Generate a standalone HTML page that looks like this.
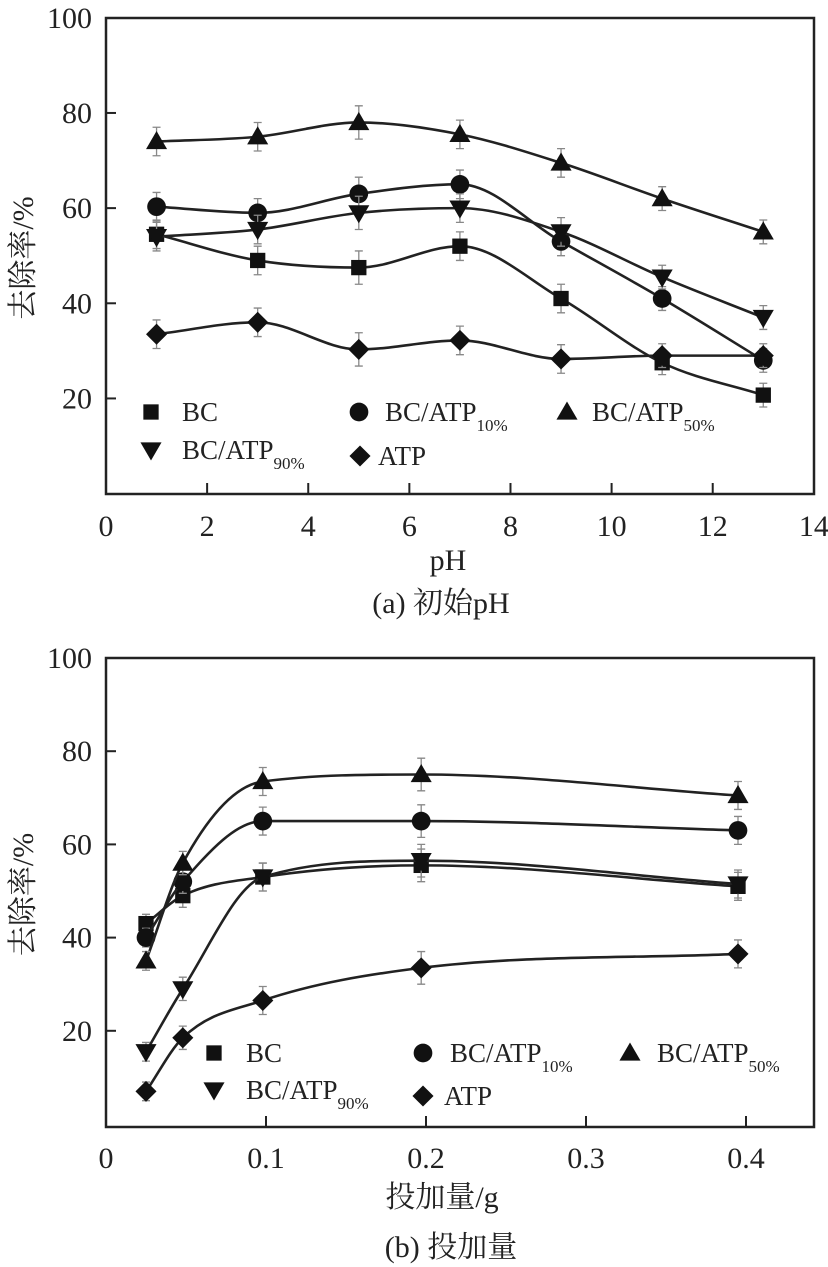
<!DOCTYPE html>
<html><head><meta charset="utf-8">
<style>
html,body{margin:0;padding:0;background:#fff;}
svg{display:block;}
text{font-family:"Liberation Serif","Noto Serif CJK SC","Noto Sans CJK SC",serif;fill:#222;}
</style></head>
<body>
<svg id="chart" width="828" height="1267" viewBox="0 0 828 1267" xmlns="http://www.w3.org/2000/svg"></svg>
<script>
// ---- Chart (a) data ----
const phX = [1, 3, 5, 7, 9, 11, 13];
const phBC = [54.5, 49, 47.5, 52, 41, 27.5, 20.7];
const phBC10 = [60.3, 59, 63, 65, 53, 41, 28];
const phBC50 = [74, 75, 78, 75.5, 69.5, 62, 55];
const phBC90 = [54, 55.5, 59, 60, 55, 45.5, 37];
const phATP = [33.5, 36, 30.3, 32.2, 28.3, 29, 29];
const phErr = [3, 3, 3.5, 3, 3, 2.5, 2.5];
const phTicks = [0, 2, 4, 6, 8, 10, 12, 14];
// ---- Chart (b) data ----
const dX = [0.025, 0.048, 0.098, 0.197, 0.395];
const dBC = [43, 49, 53, 55.5, 51];
const dBC10 = [40, 52, 65, 65, 63];
const dBC50 = [35, 56, 73.5, 75, 70.5];
const dBC90 = [15.5, 29, 53, 56.5, 51.5];
const dATP = [7, 18.5, 26.5, 33.5, 36.5];
const dErr = [2, 2.5, 3, 3.5, 3];
const dTicks = [0, 0.1, 0.2, 0.3, 0.4];
const dTickLabels = ["0", "0.1", "0.2", "0.3", "0.4"];
const yTicks = [20, 40, 60, 80, 100];

const NS = "http://www.w3.org/2000/svg";
const svg = document.getElementById("chart");
function mk(tag, attrs, parent) {
  const e = document.createElementNS(NS, tag);
  for (const k in attrs) e.setAttribute(k, attrs[k]);
  (parent || svg).appendChild(e);
  return e;
}
// monotone cubic (Fritsch-Carlson) in pixel space
function smooth(pts) {
  const n = pts.length, dx = [], dy = [], m = [], t = [];
  for (let i = 0; i < n - 1; i++) { dx[i] = pts[i + 1][0] - pts[i][0]; dy[i] = pts[i + 1][1] - pts[i][1]; m[i] = dy[i] / dx[i]; }
  t[0] = m[0]; t[n - 1] = m[n - 2];
  for (let i = 1; i < n - 1; i++) t[i] = (m[i - 1] * m[i] <= 0) ? 0 : (m[i - 1] + m[i]) / 2;
  for (let i = 0; i < n - 1; i++) {
    if (m[i] === 0) { t[i] = 0; t[i + 1] = 0; continue; }
    const a = t[i] / m[i], b = t[i + 1] / m[i], h = a * a + b * b;
    if (h > 9) { const s = 3 / Math.sqrt(h); t[i] = s * a * m[i]; t[i + 1] = s * b * m[i]; }
  }
  let d = "M" + pts[0][0] + "," + pts[0][1];
  for (let i = 0; i < n - 1; i++) {
    const h = dx[i] / 3;
    d += " C" + (pts[i][0] + h) + "," + (pts[i][1] + t[i] * h) + " " + (pts[i + 1][0] - h) + "," + (pts[i + 1][1] - t[i + 1] * h) + " " + pts[i + 1][0] + "," + pts[i + 1][1];
  }
  return d;
}
function marker(g, type, x, y, s) {
  let e;
  if (type === "square") e = mk("rect", {x: x - s * 0.45, y: y - s * 0.45, width: s * 0.9, height: s * 0.9, fill: "#111"}, g);
  else if (type === "circle") e = mk("circle", {cx: x, cy: y, r: s * 0.55, fill: "#111"}, g);
  else if (type === "up") e = mk("polygon", {points: `${x},${y - s * 0.62} ${x - s * 0.62},${y + s * 0.45} ${x + s * 0.62},${y + s * 0.45}`, fill: "#111"}, g);
  else if (type === "down") e = mk("polygon", {points: `${x},${y + s * 0.62} ${x - s * 0.62},${y - s * 0.45} ${x + s * 0.62},${y - s * 0.45}`, fill: "#111"}, g);
  else e = mk("polygon", {points: `${x},${y - s * 0.62} ${x + s * 0.62},${y} ${x},${y + s * 0.62} ${x - s * 0.62},${y}`, fill: "#111"}, g);
  return e;
}

function drawChart(cfg) {
  const g = mk("g", {});
  
  
  const X = v => cfg.x0 + v * cfg.xs;
  const Y = v => cfg.y0 - v * cfg.ys;
  cfg.series.forEach(s => {
    const sg = mk("g", {}, g);
    
    
    const pts = cfg.xv.map((xv, i) => [X(xv), Y(s.vals[i])]);
    const p = mk("path", {d: smooth(pts), fill: "none", stroke: "#222", "stroke-width": 2.6}, sg);
    
    
    cfg.xv.forEach((xv, i) => {
      const x = X(xv), e = cfg.err[i];
      const eb = mk("path", {d: `M${x},${Y(s.vals[i] + e)}V${Y(s.vals[i] - e)}M${x - 4},${Y(s.vals[i] + e)}h8M${x - 4},${Y(s.vals[i] - e)}h8`, stroke: "#888", "stroke-width": 1.3, fill: "none"}, sg);
      
      
      const m = marker(sg, s.type, x, Y(s.vals[i]), 17);
      
      
    });
  });
  const fr = mk("rect", {x: cfg.left, y: cfg.top, width: cfg.right - cfg.left, height: cfg.bottom - cfg.top, fill: "none", stroke: "#222", "stroke-width": 2.5}, g);
  
  
  yTicks.forEach(t => {
    const y = Y(t);
    if (t < 100) mk("line", {x1: cfg.left, x2: cfg.left + 10, y1: y, y2: y, stroke: "#222", "stroke-width": 2}, g);
    const tx = mk("text", {x: cfg.left - 14, y: y + 10, "text-anchor": "end", "font-size": 30}, g);
    tx.textContent = t;
    
    
  });
  cfg.xt.forEach((t, i) => {
    const x = X(t);
    if (i > 0 && x < cfg.right - 3) mk("line", {x1: x, x2: x, y1: cfg.bottom, y2: cfg.bottom - 11, stroke: "#222", "stroke-width": 2}, g);
    const tx = mk("text", {x: x, y: cfg.tickBase, "text-anchor": "middle", "font-size": 30}, g);
    tx.textContent = cfg.xtl[i];
    
    
  });
  const yl = mk("text", {x: 0, y: 0, "text-anchor": "middle", "font-size": 30, transform: `translate(33,${(cfg.top + cfg.bottom) / 2 + 2}) rotate(-90)`, fill: "#333"}, g);
  yl.textContent = "去除率/%";
  
  
  const xl = mk("text", {x: cfg.xlX, y: cfg.xlBase, "text-anchor": "middle", "font-size": 30}, g);
  xl.textContent = cfg.xlabel;
  
  
  const cp = mk("text", {x: cfg.capX, y: cfg.capBase, "text-anchor": "middle", "font-size": 30}, g);
  cp.textContent = cfg.caption;
  
  
  const lg = mk("g", {}, g);
  
  
  cfg.legend.forEach(L => {
    const eg = mk("g", {}, lg);
    
    
    marker(eg, L.type, L.mx, L.y, 17);
    const t = mk("text", {x: L.tx, y: L.y + 9, "font-size": 27}, eg);
    t.textContent = L.label;
    if (L.sub) {
      const ts = mk("tspan", {"font-size": 17, dy: 10}, t);
      ts.textContent = L.sub;
    }
  });
}

const typesA = [
  {key: "bc", type: "square"}, {key: "bc-atp10", type: "circle"}, {key: "bc-atp50", type: "up"},
  {key: "bc-atp90", type: "down"}, {key: "atp", type: "diamond"}];
drawChart({
  name: "chart-a-ph", left: 106, right: 814, top: 18, bottom: 494,
  x0: 106, xs: 50.56, y0: 493.6, ys: 4.758,
  xv: phX, err: phErr, xt: phTicks, xtl: phTicks.map(String),
  tickBase: 536, xlBase: 570, capBase: 613, xlX: 448, capX: 441, xlabel: "pH", caption: "(a) 初始pH",
  series: [
    Object.assign({vals: phBC}, typesA[0]), Object.assign({vals: phBC10}, typesA[1]),
    Object.assign({vals: phBC50}, typesA[2]), Object.assign({vals: phBC90}, typesA[3]),
    Object.assign({vals: phATP}, typesA[4])],
  legend: [
    {type: "square", mx: 151, tx: 182, y: 412, label: "BC"},
    {type: "circle", mx: 359, tx: 385, y: 412, label: "BC/ATP", sub: "10%"},
    {type: "up", mx: 567, tx: 592, y: 412, label: "BC/ATP", sub: "50%"},
    {type: "down", mx: 151, tx: 182, y: 450, label: "BC/ATP", sub: "90%"},
    {type: "diamond", mx: 360, tx: 378, y: 456, label: "ATP"}]
});
drawChart({
  name: "chart-b-dosage", left: 106, right: 814, top: 658, bottom: 1127,
  x0: 106, xs: 1600, y0: 1124, ys: 4.66,
  xv: dX, err: dErr, xt: dTicks, xtl: dTickLabels,
  tickBase: 1168, xlBase: 1207, capBase: 1257, xlX: 442, capX: 451, xlabel: "投加量/g", caption: "(b) 投加量",
  series: [
    Object.assign({vals: dBC}, typesA[0]), Object.assign({vals: dBC10}, typesA[1]),
    Object.assign({vals: dBC50}, typesA[2]), Object.assign({vals: dBC90}, typesA[3]),
    Object.assign({vals: dATP}, typesA[4])],
  legend: [
    {type: "square", mx: 214, tx: 246, y: 1053, label: "BC"},
    {type: "circle", mx: 423, tx: 450, y: 1053, label: "BC/ATP", sub: "10%"},
    {type: "up", mx: 630, tx: 657, y: 1053, label: "BC/ATP", sub: "50%"},
    {type: "down", mx: 214, tx: 246, y: 1090, label: "BC/ATP", sub: "90%"},
    {type: "diamond", mx: 423, tx: 444, y: 1096, label: "ATP"}]
});
</script>
</body></html>
